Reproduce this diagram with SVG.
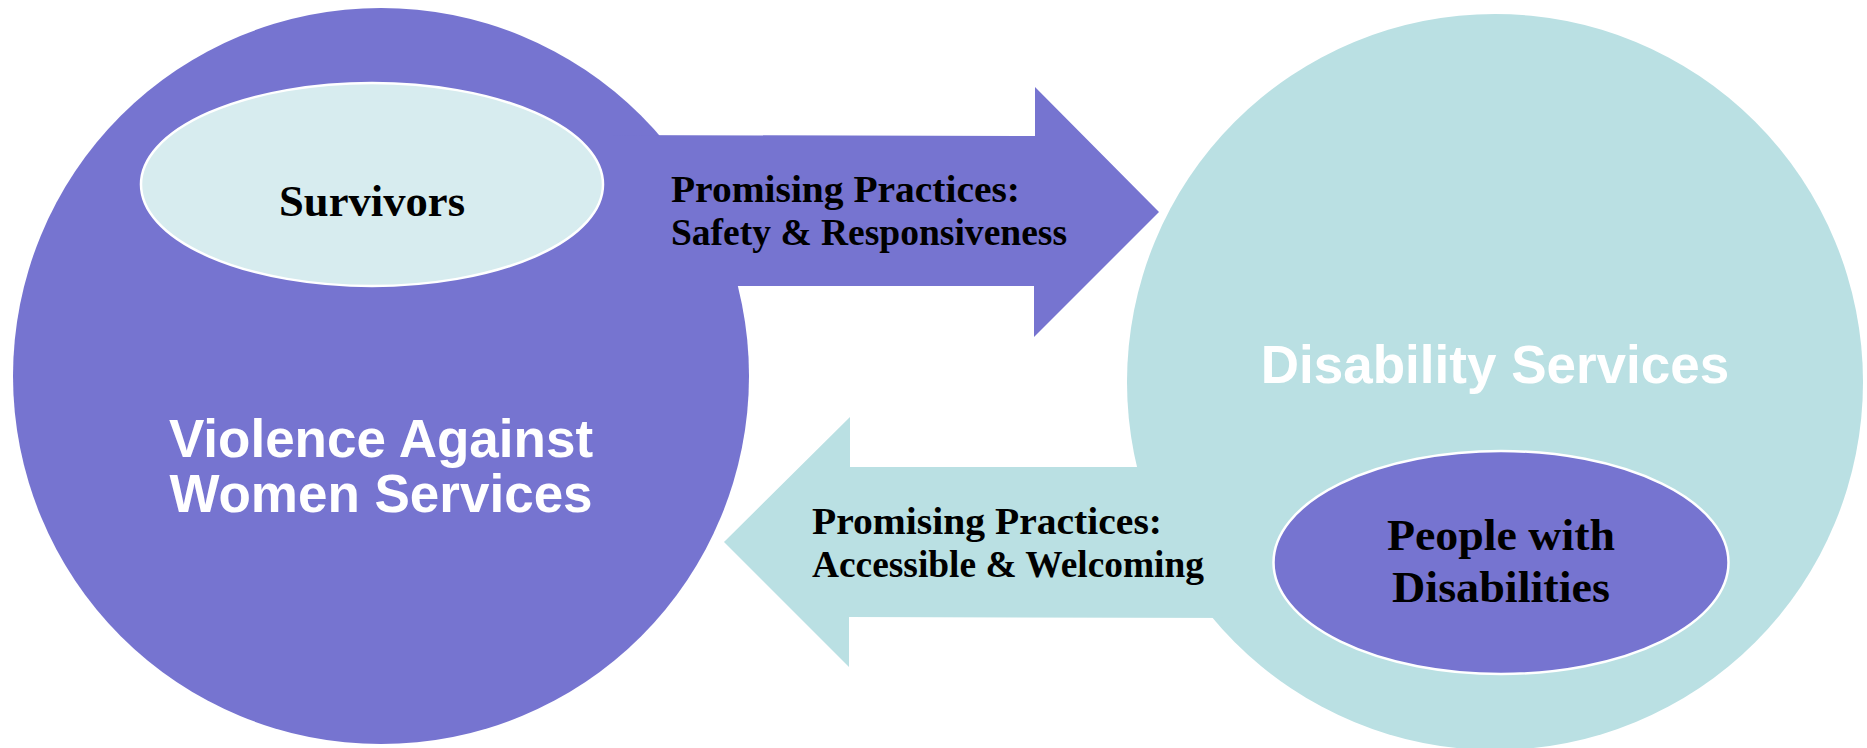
<svg xmlns="http://www.w3.org/2000/svg" width="1867" height="748" viewBox="0 0 1867 748">
<style>
.purple{fill:#7674D0}
.teal{fill:#BAE0E3}
.big{font-family:"Liberation Sans",Arial,sans-serif;font-weight:bold;font-size:53px;fill:#ffffff;text-anchor:middle}
.lbl{font-family:"Liberation Serif","Times New Roman",serif;font-weight:bold;fill:#000000}
.inner{stroke:#ffffff;stroke-width:2.5}
</style>
<rect width="1867" height="748" fill="#ffffff"/>
<g id="vaw-services">
<circle class="purple" cx="381" cy="376" r="368"/>
</g>
<g id="disability-services">
<circle class="teal" cx="1495" cy="382" r="368"/>
</g>
<g id="connectors">
<polygon class="purple" points="600,135 1035,136 1035,87 1159,212 1034,337 1034,286 600,286"/>
<polygon class="teal" points="1250,467 850,467 850,417 724,542 849,667 849,617 1250,618"/>
<text class="lbl" font-size="38" x="671" y="202" textLength="349" lengthAdjust="spacingAndGlyphs">Promising Practices:</text>
<text class="lbl" font-size="38" x="671" y="245" textLength="396" lengthAdjust="spacingAndGlyphs">Safety &amp; Responsiveness</text>
<text class="lbl" font-size="38" x="812" y="534" textLength="350" lengthAdjust="spacingAndGlyphs">Promising Practices:</text>
<text class="lbl" font-size="38" x="812" y="577" textLength="392" lengthAdjust="spacingAndGlyphs">Accessible &amp; Welcoming</text>
</g>
<g id="vaw-label">
<text class="big" x="381" y="457">Violence Against</text>
<text class="big" x="381" y="512">Women Services</text>
</g>
<g id="ds-label">
<text class="big" x="1495" y="383">Disability Services</text>
</g>
<g id="survivors">
<ellipse class="inner" cx="372" cy="184.5" rx="231" ry="101.5" fill="#D7ECEF"/>
<text class="lbl" font-size="45" x="372" y="216" text-anchor="middle" textLength="186" lengthAdjust="spacingAndGlyphs">Survivors</text>
</g>
<g id="people-with-disabilities">
<ellipse class="inner purple" cx="1501" cy="562.5" rx="227.5" ry="111.5"/>
<text class="lbl" font-size="45" x="1501" y="550" text-anchor="middle" textLength="228" lengthAdjust="spacingAndGlyphs">People with</text>
<text class="lbl" font-size="45" x="1501" y="602" text-anchor="middle" textLength="218" lengthAdjust="spacingAndGlyphs">Disabilities</text>
</g>
</svg>
